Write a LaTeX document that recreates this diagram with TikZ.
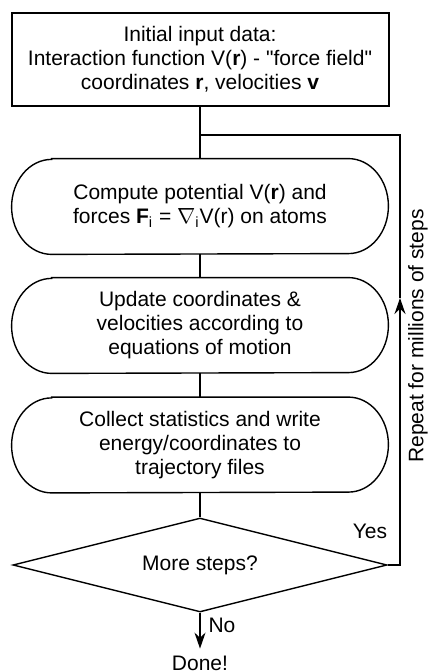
\documentclass[tikz,border=0pt]{standalone}
\usepackage{fontspec}
\setsansfont{Liberation Sans}
\usetikzlibrary{arrows.meta, positioning, shapes.geometric}

\begin{document}
\begin{tikzpicture}[
  x=0.5pt, y=-0.5pt,
  font=\sffamily\fontsize{10.5}{12}\selectfont,
  every node/.style={align=center},
  startbox/.style={
    draw, line width=1pt, minimum width=188.5pt, minimum height=46.5pt, inner sep=0pt
  },
  stadium/.style={
    minimum width=188pt, minimum height=47.5pt, inner sep=0pt
  },
  outline/.style={line width=0.7pt},
  decision/.style={
    draw, line width=0.7pt, diamond, aspect=4, minimum width=187pt,
    minimum height=47pt, inner sep=0pt
  },
  link/.style={line width=0.8pt},
  tip/.style={-{Stealth[length=8pt, width=5.5pt]}}
]
  \useasboundingbox (0,0) rectangle (427,672);

  \node[startbox] (init) at (200,59.5)
    {Initial input data:\\ Interaction function V(\textbf{r}) - \textquotedbl force field\textquotedbl\\
     coordinates \textbf{r}, velocities \textbf{v}};

  % rounded process boxes with elliptic ends
  \foreach \name/\y/\txt in {
      compute/206.5/{Compute potential V(\textbf{r}) and\\ forces \textbf{F}\textsubscript{i} = $\nabla$\textsubscript{i}V(r) on atoms},
      update/325.5/{Update coordinates \&\\ velocities according to\\ equations of motion},
      collect/445/{Collect statistics and write\\ energy/coordinates to\\ trajectory files}} {
    \node[stadium] (\name) at (200,\y) {\txt};
    \draw[outline] ([xshift=20pt]\name.north west) -- ([xshift=-20pt]\name.north east)
      arc[start angle=90, end angle=-90, x radius=20pt, y radius=23.75pt]
      -- ([xshift=20pt]\name.south west)
      arc[start angle=270, end angle=90, x radius=20pt, y radius=23.75pt] -- cycle;
  }

  \node[decision] (more) at (200,565) {More steps?};
  \node (done) at (200,663) {Done!};
  \node (yes) at (370,531) {Yes};
  \node (no) at (222,625) {No};
  \node[rotate=90] (repeat) at (418,336) {Repeat for millions of steps};

  % main flow
  \draw[link] (init) -- (compute);
  \draw[link] (compute) -- (update);
  \draw[link] (update) -- (collect);
  \draw[link] (collect) -- (more);
  \draw[link, tip] (more) -- (done);

  % loop back
  \coordinate (branch) at (200,135);
  \coordinate (turn) at (400,298);
  \draw[link, tip] (more.east) -| (turn);
  \draw[link] (turn) |- (branch);
\end{tikzpicture}
\end{document}
